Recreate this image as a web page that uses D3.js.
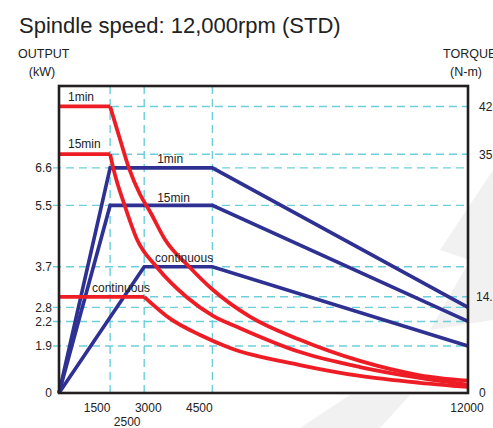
<html lang="en">
<head>
  <meta charset="UTF-8">
  <title>Spindle speed chart</title>
  <style>
    body { margin: 0; background: #fff; font-family: "Liberation Sans", Arial, sans-serif; }
    svg text { fill: #222; }
  </style>
</head>
<body>
  <div class="svg-target"></div>
  <script src="https://d3js.org/d3.v7.min.js"></script>
  <script>
    // ---- data ----
    const xTickLabels = [1500, 3000, 4500, 12000];
    const xTickLabels2 = [2500];
    const xGridRpm = [1500, 2500, 4500];
    const kwTicks = [0, 1.9, 2.2, 2.8, 3.7, 5.5, 6.6];
    const torqueTicks = [0, 14.1, 35, 42];

    // output (kW) vs rpm
    const power1min = [[0, 0], [1500, 6.6], [4500, 6.6], [12000, 2.8]];
    const power15min = [[0, 0], [1500, 5.5], [4500, 5.5], [12000, 2.2]];
    const powerCont = [[0, 0], [2500, 3.7], [4500, 3.7], [12000, 1.9]];

    // torque (N-m) vs rpm
    const torque1min = [[0, 42], [1500, 42], [1790, 37.2], [2050, 33.0], [2380, 29.1], [2670, 26.6], [3110, 22.5],
      [3840, 18.4], [4520, 15.1], [5600, 11.2], [7070, 7.8], [8830, 4.7], [10590, 2.6], [12000, 1.8]];
    const torque15min = [[0, 35], [1500, 35], [1590, 33.0], [1940, 27.3], [2290, 22.5], [2880, 18.4], [3760, 14.0],
      [4520, 11.3], [5310, 9.5], [7070, 6.0], [8830, 3.8], [10590, 2.2], [12000, 1.2]];
    const torqueCont = [[0, 14.1], [2500, 14.1], [3260, 10.9], [4140, 8.5], [5020, 6.6], [7070, 4.1],
      [8830, 2.5], [10590, 1.5], [12000, 0.9]];

    // ---- layout ----
    const w = 493, h = 428;
    const pLeft = 59, pRight = 468, pTop = 86, pBottom = 393;
    const red = "#ee1d25", blue = "#2e3192", grid = "#6ccfdb";

    const svg = d3.select("div.svg-target").append("svg")
      .attr("width", w).attr("height", h);

    // faint background swoosh, bottom right
    svg.append("path")
      .attr("d", "M493,170 L440,250 L470,260 L430,330 L493,320 Z M300,428 L350,395 L410,395 L380,428 Z")
      .attr("fill", "#f1f1f1");

    const xScale = d3.scaleLinear().domain([0, 12000]).range([pLeft, pRight]);
    const yTorque = d3.scaleLinear().domain([0, 45]).range([pBottom, pTop]);
    // the kW axis of the original is stretched below 3.7 kW
    const kwStops = [0, 1.9, 2.2, 2.8, 3.7, 9];
    const kwFrac = [0, 0.153, 0.233, 0.279, 0.411, 1];
    const yKw = d3.scaleLinear().domain(kwStops).range(kwFrac.map(f => pBottom - f * (pBottom - pTop)));

    // title
    svg.append("text").attr("x", 19).attr("y", 33)
      .style("font-size", "22px").text("Spindle speed: 12,000rpm (STD)");

    svg.append("text").attr("x", 18).attr("y", 58).style("font-size", "12.5px").text("OUTPUT");
    svg.append("text").attr("x", 42).attr("y", 76).attr("text-anchor", "middle").style("font-size", "12.5px").text("(kW)");
    svg.append("text").attr("x", 443).attr("y", 58).style("font-size", "12.5px").text("TORQUE");
    svg.append("text").attr("x", 466).attr("y", 76).attr("text-anchor", "middle").style("font-size", "12.5px").text("(N-m)");

    // gridlines
    const gridG = svg.append("g")
      .attr("stroke", grid).attr("stroke-width", 1.4).attr("stroke-dasharray", "8,5").attr("fill", "none");
    gridG.selectAll("line.kw")
      .data(kwTicks.filter(d => d > 0))
      .enter().append("line")
      .attr("class", "kw")
      .attr("x1", pLeft - 6).attr("x2", pRight)
      .attr("y1", d => yKw(d)).attr("y2", d => yKw(d));
    gridG.selectAll("line.tq")
      .data(torqueTicks.filter(d => d > 0))
      .enter().append("line")
      .attr("class", "tq")
      .attr("x1", pLeft).attr("x2", pRight)
      .attr("y1", d => yTorque(d)).attr("y2", d => yTorque(d));
    gridG.selectAll("line.v")
      .data(xGridRpm)
      .enter().append("line")
      .attr("class", "v")
      .attr("x1", d => xScale(d)).attr("x2", d => xScale(d))
      .attr("y1", pTop).attr("y2", pBottom);

    // left kW axis labels
    const kwAxis = d3.axisLeft(yKw).tickValues(kwTicks).tickSize(0).tickPadding(7)
      .tickFormat(d => d === 0 ? "0" : d3.format(".1f")(d));
    svg.append("g").attr("transform", "translate(" + pLeft + ",0)").call(kwAxis)
      .call(g => g.select(".domain").remove())
      .call(g => g.selectAll("text").style("font-size", "12px").style("font-family", "Liberation Sans, Arial, sans-serif"));

    // right torque axis labels
    const tqAxis = d3.axisRight(yTorque).tickValues(torqueTicks).tickSize(0).tickPadding(11)
      .tickFormat(d => d === 0 ? "0" : String(d));
    svg.append("g").attr("transform", "translate(" + pRight + ",0)").call(tqAxis)
      .call(g => g.select(".domain").remove())
      .call(g => g.selectAll("text").style("font-size", "12px").style("font-family", "Liberation Sans, Arial, sans-serif"))
      .call(g => g.selectAll(".tick").filter(d => d === 14.1).select("text").attr("x", 8));

    // x labels (the original prints them a little left of the lines)
    const xLabelShift = { 1500: -13, 3000: -13, 4500: -13, 12000: -1, 2500: -17 };
    svg.selectAll("text.xl")
      .data(xTickLabels)
      .enter().append("text")
      .attr("class", "xl")
      .attr("text-anchor", "middle")
      .attr("x", d => xScale(d) + xLabelShift[d])
      .attr("y", 412)
      .style("font-size", "12px")
      .text(d => d);
    svg.selectAll("text.xl2")
      .data(xTickLabels2)
      .enter().append("text")
      .attr("class", "xl2")
      .attr("text-anchor", "middle")
      .attr("x", d => xScale(d) + xLabelShift[d])
      .attr("y", 426)
      .style("font-size", "12px")
      .text(d => d);

    // power curves
    const kwLine = d3.line().x(d => xScale(d[0])).y(d => yKw(d[1]));
    [power1min, power15min, powerCont].forEach(series => {
      svg.append("path").datum(series)
        .attr("d", kwLine)
        .attr("fill", "none").attr("stroke", blue).attr("stroke-width", 3.6)
        .attr("stroke-linejoin", "miter");
    });

    // torque curves: flat part straight, then smooth falloff
    const tqFlat = d3.line().x(d => xScale(d[0])).y(d => yTorque(d[1]));
    const tqCurve = d3.line().x(d => xScale(d[0])).y(d => yTorque(d[1])).curve(d3.curveMonotoneX);
    [torque1min, torque15min, torqueCont].forEach(series => {
      const g = svg.append("g").attr("fill", "none").attr("stroke", red).attr("stroke-width", 3.8);
      g.append("path").datum(series.slice(0, 2)).attr("d", tqFlat);
      g.append("path").datum(series.slice(1)).attr("d", tqCurve);
    });

    // frame
    svg.append("rect")
      .attr("x", pLeft).attr("y", pTop)
      .attr("width", pRight - pLeft).attr("height", pBottom - pTop)
      .attr("fill", "none").attr("stroke", "#231f20").attr("stroke-width", 2.6);

    // curve labels
    const lab = (x, y, t) => svg.append("text").attr("x", x).attr("y", y).style("font-size", "12px").text(t);
    lab(pLeft + 9, yTorque(42) - 5, "1min");
    lab(pLeft + 9, yTorque(35) - 6, "15min");
    lab(pLeft + 33, yTorque(14.1) - 5, "continuous");
    lab(xScale(2880), yKw(6.6) - 5, "1min");
    lab(xScale(2880), yKw(5.5) - 3, "15min");
    lab(xScale(2820), yKw(3.7) - 5, "continuous");
  </script>
</body>
</html>
